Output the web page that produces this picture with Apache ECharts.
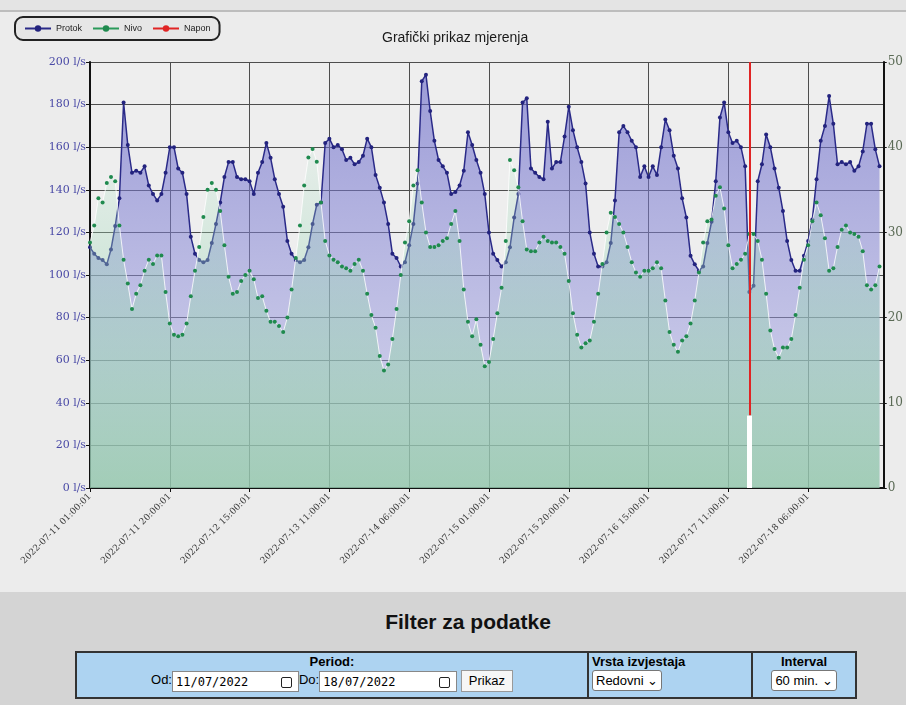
<!DOCTYPE html>
<html>
<head>
<meta charset="utf-8">
<title>Grafički prikaz mjerenja</title>
<script src="https://cdn.jsdelivr.net/npm/echarts@6/dist/echarts.min.js"></script>
<style>
body{margin:0;background:#ececec;font-family:"Liberation Sans",Arial,sans-serif;width:906px;height:705px;overflow:hidden;position:relative;}
#traka{position:absolute;left:0;top:0;width:906px;height:10px;background:#e4e4e4;border-bottom:2px solid #bdbdbd;z-index:2;}
#graf{width:906px;height:592px;}
#filter{height:113px;background:#d4d4d4;}
.naslov{font-weight:bold;font-size:21px;color:#111;text-align:center;padding-top:18px;height:41px;margin-left:30px;}
.filter_tab{position:absolute;left:75px;top:651px;width:782px;height:48px;border-collapse:collapse;background:#add3f1;border:2px solid #333;font-size:13px;}
.filter_tab td{border:2px solid #333;padding:0;vertical-align:top;}
.c1{width:510px;text-align:center;}
.c2{width:159px;text-align:left;padding-left:3px !important;}
.c3{text-align:center;}
.filter_tab b{display:block;height:17px;line-height:17px;}
.inp{display:inline-block;vertical-align:middle;height:21px;line-height:21px;background:#fff;border:1px solid #888;font-family:"DejaVu Sans Mono",monospace;font-size:12px;text-align:left;padding-left:3px;box-sizing:border-box;position:relative;}
.kal{position:absolute;right:6px;top:5px;width:9px;height:9px;border:1.5px solid #222;border-radius:2px;}
.btn{display:inline-block;vertical-align:middle;height:22px;line-height:20px;background:#f6f6f6;border:1px solid #999;box-sizing:border-box;padding:0 7px;font-size:13px;}
.sel{display:inline-block;height:21px;line-height:19px;background:#fff;border:1px solid #777;border-radius:3px;box-sizing:border-box;padding:0 3px;font-size:13px;}
</style>
</head>
<body>
<div id="traka"></div>
<div id="graf"></div>
<div id="filter">
  <div class="naslov">Filter za podatke</div>
  <table class="filter_tab">
    <tr>
      <td class="c1"><b>Period:</b>Od:<span class="inp" style="width:127px">11/07/2022<span class="kal"></span></span>Do:<span class="inp" style="width:138px">18/07/2022<span class="kal"></span></span> <span class="btn">Prikaz</span></td>
      <td class="c2"><b>Vrsta izvjestaja</b><span class="sel">Redovni &#8964;</span></td>
      <td class="c3"><b>Interval</b><span class="sel">60 min. &#8964;</span></td>
    </tr>
  </table>
</div>
<script>
// mjerenja po satu, pocetak 2022-07-11 01:00:01
var pocetak = [2022, 6, 11, 1, 0, 1];
var brojTermina = 190;
var nedostajeNakon = [47, 142]; // sati koji fale u bazi

// Protok (l/s)
var protok = [
  113,110,108,107,105,112,123,136,181,161,
  148,149,148,151,142,138,135,138,148,160,
  160,150,148,138,118,110,107,106,107,115,
  124,134,146,153,153,146,145,145,144,138,
  148,153,162,155,145,138,132,116,110,107,
  106,107,113,124,133,134,162,164,160,161,
  159,154,155,152,153,156,164,160,147,141,
  134,124,110,108,104,106,114,124,143,191,
  194,177,163,154,151,148,138,139,142,149,
  167,161,154,148,138,120,110,107,104,106,
  113,127,138,181,183,150,148,146,145,172,
  150,153,153,165,179,168,160,153,143,120,
  110,104,104,106,115,135,167,170,167,163,
  160,146,151,146,151,147,160,173,168,156,
  150,136,127,109,105,102,104,115,125,144,
  174,181,167,162,163,160,151,92,95,144,
  152,166,160,150,141,130,116,107,102,102,
  109,116,126,145,163,170,184,171,152,153,
  152,153,149,151,158,171,171,159,151
];

// Nivo (desna os 0-50)
var nivo = [
  28.8,30.8,34,33.5,35.8,36.5,36,30.8,26.8,24,
  21,22.8,23.8,25.5,26.8,26.3,27.3,27.3,23,19.3,
  18,17.8,18,19.3,22.5,25.5,28.3,31.8,35,35.8,
  35,32.5,28.5,24.8,22.8,23,24.3,25,25.5,24.5,
  22.3,22.5,20.8,19.5,19.5,19,18.3,20,23.3,27,
  30.8,35.5,38.8,39.8,38.3,33.5,29,27.3,26.8,26.5,
  26,25.8,25.5,26.3,26.8,25.5,22.8,20.3,18.8,15.5,
  13.8,14.5,17.5,21,25,28.8,31.3,35.5,37.3,33.5,
  30,28.3,28.3,28.5,29,29.3,31,32.5,29,23.3,
  19.5,17.8,19.8,16.8,14.3,14.8,17.5,20.5,23.5,29,
  38.5,37.3,35.3,31.3,28,27.8,27.8,28.8,29.5,29,
  28.8,28.8,28.3,27.5,24.3,20.5,18,16.5,17,17.3,
  19.5,22.8,26.3,30,32.3,31.8,31,30,28.3,26.5,
  25.3,24.8,25.5,25.5,25.8,26.5,25.8,22,18.3,16.8,
  16,17.3,17.8,19.3,22,25.3,28.8,31.3,31.5,34.3,
  35.3,32.8,28.5,25.8,26.3,26.8,27.5,29.8,29.8,29,
  26.8,22.8,18.5,16.3,15.3,16.5,16.5,17.5,20.3,23.5,
  26.8,28.5,31.3,33.5,32,29.3,25.5,25.8,28.3,30.3,
  30.8,30,29.8,29.5,27.8,23.8,23.3,23.8,26
];

// Napon - jedan zapis (termin, gornja i donja vrijednost na osi protoka)
var naponTermin = 157;
var naponOd = [200, 34];

// termini na x osi
var termini = [];
var t = new Date(pocetak[0], pocetak[1], pocetak[2], pocetak[3], pocetak[4], pocetak[5]);
function dv(n){ return n < 10 ? '0' + n : '' + n; }
for (var i = 0; i < brojTermina; i++) {
    termini.push(t.getFullYear() + '-' + dv(t.getMonth() + 1) + '-' + dv(t.getDate()) + ' ' +
        dv(t.getHours()) + ':' + dv(t.getMinutes()) + ':' + dv(t.getSeconds()));
    t = new Date(t.getTime() + 3600000 * (nedostajeNakon.indexOf(i) >= 0 ? 2 : 1));
}

var myChart = echarts.init(document.getElementById('graf'));
var option = {
    backgroundColor: '#ececec',
    animation: false,
    title: {
        text: 'Grafički prikaz mjerenja',
        left: 377, top: 26,
        textStyle: { fontSize: 14, fontWeight: 'normal', color: '#1a1a1a', fontFamily: 'Liberation Sans' }
    },
    legend: {
        left: 15, top: 17,
        padding: [7, 9],
        borderColor: '#222', borderWidth: 2, borderRadius: 8,
        backgroundColor: '#e6e6e6',
        itemWidth: 26, itemHeight: 8, itemGap: 10,
        textStyle: { fontSize: 9, color: '#222', fontFamily: 'Liberation Sans' },
        data: [
            { name: 'Protok' },
            { name: 'Nivo', lineStyle: { color: '#2a9a5a', width: 2 } },
            { name: 'Napon' }
        ]
    },
    grid: { left: 90, right: 18, top: 62, bottom: 104, show: true, backgroundColor: '#eeeeee', borderWidth: 0 },
    xAxis: {
        type: 'category',
        boundaryGap: false,
        data: termini,
        axisLine: { lineStyle: { color: '#111', width: 2 } },
        axisTick: { interval: 18, length: 4, lineStyle: { color: '#111' } },
        axisLabel: { interval: 18, rotate: 45, fontSize: 9, fontFamily: 'DejaVu Serif', color: '#3a3a3a', margin: 7 },
        splitLine: { show: true, interval: 18, lineStyle: { color: '#4d4d4d', width: 1 } }
    },
    yAxis: [
        {
            type: 'value', min: 0, max: 200, interval: 20,
            axisLine: { show: true, lineStyle: { color: '#111', width: 2 } },
            axisTick: { show: true, length: 4, lineStyle: { color: '#111' } },
            axisLabel: { formatter: '{value} l/s', fontSize: 11, fontFamily: 'DejaVu Serif', color: '#4a4aa6', margin: 4 },
            splitLine: { lineStyle: { color: '#4d4d4d', width: 1 } }
        },
        {
            type: 'value', min: 0, max: 50, interval: 10, position: 'right',
            axisLine: { show: true, lineStyle: { color: '#111', width: 2 } },
            axisTick: { show: true, length: 3, lineStyle: { color: '#111' } },
            axisLabel: { fontSize: 12, fontFamily: 'DejaVu Serif', color: '#5a6a55', margin: 4 },
            splitLine: { show: false }
        }
    ],
    series: [
        {
            name: 'Protok', type: 'line', yAxisIndex: 0,
            data: protok,
            color: '#23237e',
            symbol: 'circle', symbolSize: 4, showAllSymbol: true,
            lineStyle: { width: 1.5, color: '#2a2a88' },
            areaStyle: {
                color: { type: 'linear', x: 0, y: 0, x2: 0, y2: 1, colorStops: [
                    { offset: 0, color: 'rgba(95,95,198,0.82)' },
                    { offset: 1, color: 'rgba(185,185,236,0.65)' }
                ] }
            },
            z: 2
        },
        {
            name: 'Nivo', type: 'line', yAxisIndex: 1,
            data: nivo,
            color: '#1f8a4e',
            symbol: 'circle', symbolSize: 4, showAllSymbol: true,
            lineStyle: { width: 1, color: 'rgba(255,255,255,0.8)' },
            areaStyle: {
                color: { type: 'linear', x: 0, y: 0, x2: 0, y2: 1, colorStops: [
                    { offset: 0, color: 'rgba(175,228,200,0.22)' },
                    { offset: 0.45, color: 'rgba(155,214,180,0.62)' },
                    { offset: 1, color: 'rgba(140,201,160,1)' }
                ] }
            },
            z: 3
        },
        {
            name: 'Napon', type: 'line', yAxisIndex: 0,
            data: [],
            color: '#e02424',
            symbol: 'none',
            lineStyle: { width: 2, color: '#e02424' },
            markLine: {
                silent: true,
                symbol: ['none', 'none'],
                label: { show: false },
                data: [
                    [{ coord: [termini[naponTermin], naponOd[0]], lineStyle: { color: '#e02424', width: 2, type: 'solid' } },
                     { coord: [termini[naponTermin], naponOd[1]] }],
                    [{ coord: [termini[naponTermin], naponOd[1]], lineStyle: { color: '#ffffff', width: 5, type: 'solid' } },
                     { coord: [termini[naponTermin], 0] }]
                ]
            },
            z: 4
        }
    ]
};
myChart.setOption(option);
</script>
</body>
</html>
